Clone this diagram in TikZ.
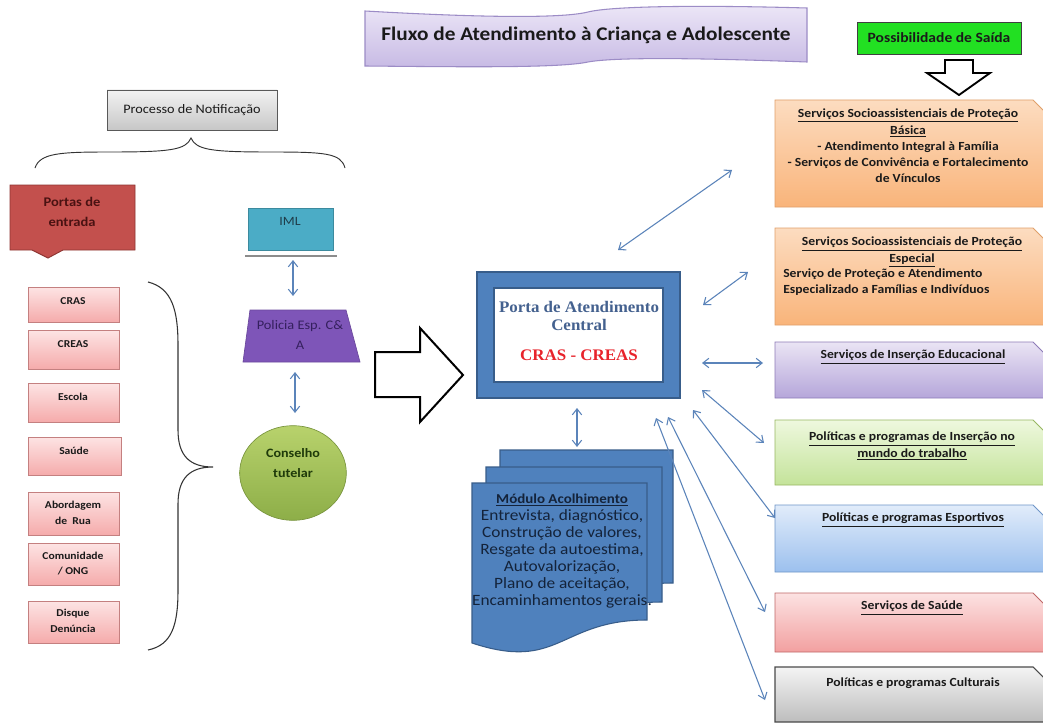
\documentclass[tikz,border=0pt]{standalone}
\usepackage{fontspec}
\setmainfont{Carlito}[FakeStretch=1.1]
\newfontfamily\camb{Liberation Serif}[FakeStretch=1.05]
\usetikzlibrary{arrows.meta,fit,shapes.geometric}
\definecolor{arrowc}{HTML}{5B84BA}
\definecolor{docblue}{HTML}{4F81BD}
\definecolor{docedge}{HTML}{385D8A}
\definecolor{slate}{HTML}{44618F}
\definecolor{creared}{HTML}{E8232B}
\definecolor{orgtop}{HTML}{FCDCC0}\definecolor{orgbot}{HTML}{F9B47A}\definecolor{orgedge}{HTML}{E0A06A}
\definecolor{purtop}{HTML}{EAE4F4}\definecolor{purbot}{HTML}{B5A6DA}\definecolor{puredge}{HTML}{8E7CB8}
\definecolor{grntop}{HTML}{EEF8DE}\definecolor{grnbot}{HTML}{C4E39A}\definecolor{grnedge}{HTML}{98B862}
\definecolor{blutop}{HTML}{E1ECFA}\definecolor{blubot}{HTML}{9CC0EE}\definecolor{bluedge}{HTML}{6E95C8}
\definecolor{redtop}{HTML}{FCE2E2}\definecolor{redbot}{HTML}{F2A0A0}\definecolor{rededge}{HTML}{C06868}
\definecolor{gratop}{HTML}{F4F4F4}\definecolor{grabot}{HTML}{BDBDBD}\definecolor{graedge}{HTML}{4A4A4A}
\definecolor{pinktop}{HTML}{FDE4E4}\definecolor{pinkbot}{HTML}{F5ABAB}\definecolor{pinkedge}{HTML}{C48080}
\definecolor{portred}{HTML}{C3504D}\definecolor{portedge}{HTML}{8E3532}\definecolor{porttxt}{HTML}{4A1212}
\definecolor{imlc}{HTML}{4BACC6}\definecolor{imltxt}{HTML}{1F3D4A}
\definecolor{polc}{HTML}{7E55B8}\definecolor{poltxt}{HTML}{35205E}
\definecolor{constop}{HTML}{B8D26C}\definecolor{consbot}{HTML}{8DAE48}\definecolor{constxt}{HTML}{1F3A0A}
\definecolor{titletop}{HTML}{ECE6F7}\definecolor{titlebot}{HTML}{C7BAE4}\definecolor{titleedge}{HTML}{9C8CC6}
\definecolor{greenbox}{HTML}{22E022}
\definecolor{txt}{HTML}{1A1A1A}
\definecolor{doctxt}{HTML}{14233A}
\newcommand\fs[2]{\fontsize{#1}{#2}\selectfont}
\begin{document}
\begin{tikzpicture}[x=0.75pt,y=-0.75pt,
  lbl/.style={inner sep=0pt, align=center, text=txt},
  arr/.style={draw=arrowc, line width=0.8pt, {Straight Barb[length=4.5pt,width=7pt]}-{Straight Barb[length=4.5pt,width=7pt]}},
  pinkbox/.style={inner sep=0pt, draw=pinkedge, line width=0.6pt, top color=pinktop, bottom color=pinkbot},
  pinklbl/.style={lbl, font=\bfseries\fs{7.9}{9.5}},
  rlbl/.style={lbl, font=\bfseries\fs{9.3}{12.2}},
  outarrow/.style={draw=black, line width=1.5pt, fill=white, line join=miter},
  brace/.style={draw=black!80, line width=0.7pt}
]
\useasboundingbox (0,0) rectangle (1043,724);
\fill[white] (0,0) rectangle (1043,724);

% ---------- Title banner ----------
\path[draw=titleedge, line width=0.8pt, top color=titletop, bottom color=titlebot]
  (365,11) .. controls (470,17) and (560,19) .. (588,12)
  .. controls (612,6) and (700,5) .. (807,8) -- (807,62)
  .. controls (700,58) and (615,57) .. (588,62)
  .. controls (560,68) and (470,67) .. (365,66) -- cycle;
\node[lbl, font=\bfseries\fs{14.5}{16}] (title) at (586,35) {Fluxo de Atendimento à Criança e Adolescente};

% ---------- Possibilidade de Saida ----------
\node[fit={(857,22)(1021,54)}, inner sep=0pt, draw=black!75, line width=0.7pt, fill=greenbox] (saida) {};
\node[lbl, font=\bfseries\fs{10.6}{12}] at (saida.center) {Possibilidade de Saída};
\path[outarrow, line width=1.4pt] (945,60) -- (973,60) -- (973,73) -- (990,73) -- (959,95) -- (927,73) -- (945,73) -- cycle;

% ---------- Right boxes ----------
\path[draw=orgedge, line width=0.7pt, top color=orgtop, bottom color=orgbot]
  (775,100) -- (1033,100) -- (1046,113) -- (1046,207) -- (775,207) -- cycle;
\node[rlbl] (r1) at (908,146) {\underline{Serviços Socioassistenciais de Proteção}\\\underline{Básica}\\- Atendimento Integral à Família\\- Serviços de Convivência e Fortalecimento\\de Vínculos};

\path[draw=orgedge, line width=0.7pt, top color=orgtop, bottom color=orgbot]
  (775,228) -- (1033,228) -- (1046,241) -- (1046,325) -- (775,325) -- cycle;
\node[rlbl] (r2) at (912,252) {\underline{Serviços Socioassistenciais de Proteção}\\\underline{Especial}};
\node[rlbl, align=left, anchor=west] (r2b) at (783,282) {Serviço de Proteção e Atendimento\\Especializado a Famílias e Indivíduos};

\path[draw=puredge, line width=0.7pt, top color=purtop, bottom color=purbot]
  (775,342) -- (1033,342) -- (1046,355) -- (1046,398) -- (775,398) -- cycle;
\node[rlbl] (r3) at (913,357) {\underline{Serviços de Inserção Educacional}};

\path[draw=grnedge, line width=0.7pt, top color=grntop, bottom color=grnbot]
  (775,420) -- (1033,420) -- (1046,433) -- (1046,485) -- (775,485) -- cycle;
\node[rlbl] (r4) at (912,446) {\underline{Políticas e programas de Inserção no}\\\underline{mundo do trabalho}};

\path[draw=bluedge, line width=0.7pt, top color=blutop, bottom color=blubot]
  (775,505) -- (1033,505) -- (1046,518) -- (1046,572) -- (775,572) -- cycle;
\node[rlbl] (r5) at (913,520) {\underline{Políticas e programas Esportivos}};

\path[draw=rededge, line width=0.7pt, top color=redtop, bottom color=redbot]
  (775,593) -- (1033,593) -- (1046,606) -- (1046,652) -- (775,652) -- cycle;
\node[rlbl] (r6) at (912,608) {\underline{Serviços de Saúde}};

\path[draw=graedge, line width=0.8pt, top color=gratop, bottom color=grabot]
  (775,667) -- (1033,667) -- (1046,680) -- (1046,722) -- (775,722) -- cycle;
\node[rlbl] (r7) at (913,683) {Políticas e programas Culturais};

% ---------- Processo de Notificacao ----------
\node[fit={(107,90)(277,130)}, inner sep=0pt, draw=black!65, line width=0.7pt, top color=white!95!black, bottom color=black!22] (proc) {};
\node[lbl, font=\fs{9.7}{12}] at (proc.center) {Processo de Notificação};
\path[brace] (35,168) .. controls (40,153) and (60,152) .. (110,152)
  .. controls (170,152) and (186,150) .. (191,138)
  .. controls (196,150) and (212,152) .. (270,152)
  .. controls (325,152) and (341,153) .. (345,168);

% ---------- Portas de entrada ----------
\path[draw=portedge, line width=0.7pt, fill=portred]
  (10,185) -- (135,185) -- (135,250) -- (63,250) -- (48,258) -- (32,250) -- (10,250) -- cycle;
\node[lbl, text=porttxt, font=\bfseries\fs{9.9}{15}] (portas) at (72,212) {Portas de\\entrada};

% ---------- Left pink boxes ----------
\node[fit={(28,287)(119,322)}, pinkbox] (cras) {};
\node[pinklbl] at (73,301) {CRAS};
\node[fit={(28,330)(119,369)}, pinkbox] (creas) {};
\node[pinklbl] at (73,344) {CREAS};
\node[fit={(28,383)(119,422)}, pinkbox] (escola) {};
\node[pinklbl] at (73,397) {Escola};
\node[fit={(28,437)(121,475)}, pinkbox] (saude) {};
\node[pinklbl] at (74,451) {Saúde};
\node[fit={(28,492)(119,535)}, pinkbox] (abord) {};
\node[pinklbl, font=\bfseries\fs{7.9}{12.5}] at (73,513) {Abordagem\\de\ \ Rua};
\node[fit={(28,543)(119,585)}, pinkbox] (comun) {};
\node[pinklbl, font=\bfseries\fs{7.9}{11.3}] at (73,564) {Comunidade\\/ ONG};
\node[fit={(28,601)(119,643)}, pinkbox] (disque) {};
\node[pinklbl, font=\bfseries\fs{7.9}{12}] at (73,621) {Disque\\Denúncia};

\path[brace, line width=0.8pt] (148,282) .. controls (172,288) and (178,310) .. (178,345) -- (178,430)
  .. controls (178,456) and (190,467) .. (213,467)
  .. controls (190,467) and (178,478) .. (178,504) -- (178,590)
  .. controls (178,625) and (172,645) .. (148,650);

% ---------- IML / Policia / Conselho ----------
\node[fit={(248,208)(333,250)}, inner sep=0pt, fill=imlc, draw=imlc!80!black, line width=0.5pt] (iml) {};
\node[lbl, text=imltxt, font=\fs{9.5}{12}] at (290,221) {IML};
\draw[black!45, line width=1pt] (245,256) -- (337,256);

\path[fill=polc, draw=polc!85!black, line width=0.5pt] (250,310) -- (346,310) -- (360,362) -- (243,362) -- cycle;
\node[lbl, text=poltxt, font=\fs{9.8}{15}] (pol) at (300,335) {Policia Esp. C\&\\A};

\node[ellipse, minimum width=80pt, minimum height=71pt, inner sep=0pt, top color=constop, bottom color=consbot, draw=consbot!85!black, line width=0.5pt] (cons) at (293,473) {};
\node[lbl, text=constxt, font=\bfseries\fs{9.6}{15}] at (293,463) {Conselho\\tutelar};

\coordinate (a0s) at (293,260); \coordinate (a0e) at (293,296);
\draw[arr] (a0s) -- (a0e);
\coordinate (a1s) at (295,372); \coordinate (a1e) at (295,413);
\draw[arr] (a1s) -- (a1e);

% ---------- Big outline arrow ----------
\path[outarrow] (375,352) -- (420,352) -- (420,328) -- (463,375) -- (420,422) -- (420,397) -- (375,397) -- cycle;

% ---------- Central box ----------
\node[fit={(477,272)(680,398)}, inner sep=0pt, fill=docblue, draw=docedge, line width=0.8pt] (central) {};
\node[fit={(494,288)(663,382)}, inner sep=0pt, fill=white, draw=docedge, line width=0.8pt] (centralin) {};
\node[lbl, text=slate, font=\camb\bfseries\fs{12.1}{13}] (ctxt) at (579,316) {Porta de Atendimento\\Central};
\node[lbl, text=creared, font=\camb\bfseries\fs{12.1}{13}] (ctxt2) at (579,355) {CRAS - CREAS};

\coordinate (a2s) at (577,408); \coordinate (a2e) at (577,447);
\draw[arr] (a2s) -- (a2e);

% ---------- Modulo Acolhimento (multi document) ----------
\path[fill=docblue, draw=docedge, line width=0.8pt] (500,450) -- (673,450) -- (673,583)
  .. controls (586.5,583) and (586.5,634) .. (500,605) -- cycle;
\path[fill=docblue, draw=docedge, line width=0.8pt] (486,467) -- (662,467) -- (662,602)
  .. controls (574,602) and (574,653) .. (486,624) -- cycle;
\path[fill=docblue, draw=docedge, line width=0.8pt] (472,483) -- (647,483) -- (647,620)
  .. controls (559.5,620) and (559.5,672) .. (472,643) -- cycle;
\node[lbl, text=doctxt, font=\fs{11.8}{12.75}] (mod) at (562,551)
  {{\bfseries\fs{10.2}{12.75}\underline{Módulo Acolhimento}}\\Entrevista, diagnóstico,\\Construção de valores,\\Resgate da autoestima,\\Autovalorização,\\Plano de aceitação,\\Encaminhamentos gerais.};

% ---------- Connectors central <-> right boxes ----------
\coordinate (b1s) at (618,250); \coordinate (b1e) at (732,170);
\coordinate (b2s) at (703,305); \coordinate (b2e) at (748,272);
\coordinate (b3s) at (702,363); \coordinate (b3e) at (763,363);
\coordinate (b4s) at (702,390); \coordinate (b4e) at (764,443);
\coordinate (b5s) at (693,410); \coordinate (b5e) at (775,518);
\coordinate (b6s) at (668,417); \coordinate (b6e) at (765,612);
\coordinate (b7s) at (656,418); \coordinate (b7e) at (765,700);
\foreach \i in {1,...,7} { \draw[arr] (b\i s) -- (b\i e); }
\end{tikzpicture}
\end{document}
